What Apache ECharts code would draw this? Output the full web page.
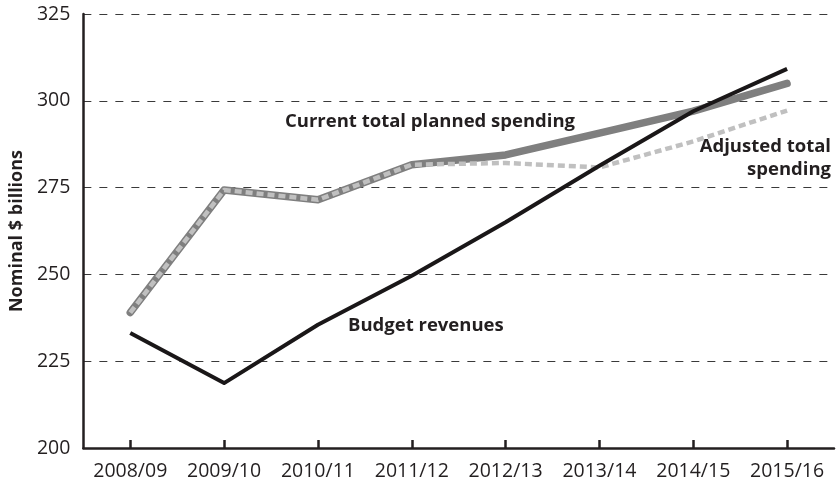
<!DOCTYPE html>
<html>
<head>
<meta charset="utf-8">
<script src="https://cdn.jsdelivr.net/npm/echarts@6/dist/echarts.min.js"></script>
<style>html,body{margin:0;padding:0;background:#fff;}#c{width:839px;height:487px;}</style>
</head>
<body>
<div id="c"></div>
<script>
const categories = ['2008/09','2009/10','2010/11','2011/12','2012/13','2013/14','2014/15','2015/16'];
const currentSpending = [239, 274.3, 271.5, 281.6, 284.4, 290.7, 297, 305];
const adjustedSpending = [239, 274.3, 271.5, 281.6, 282.1, 280.8, 288.3, 297.2];
const budgetRevenues = [233.1, 218.7, 235.5, 249.6, 265, 281.3, 297, 309.2];
const yTicks = [200, 225, 250, 275, 300, 325];

const ink = '#231f20';
const font = 'Open Sans';
const chart = echarts.init(document.getElementById('c'));
chart.setOption({
  animation: false,
  grid: {left: 80, right: 5, top: 14, bottom: 39, containLabel: false},
  xAxis: {
    type: 'category',
    data: categories,
    boundaryGap: true,
    axisLine: {lineStyle: {color: ink, width: 2.5}},
    axisTick: {show: true, inside: true, alignWithLabel: true, interval: 0, length: 8, lineStyle: {color: ink, width: 2.5}},
    axisLabel: {color: ink, fontFamily: font, fontSize: 19.5, margin: 13, interval: 0, hideOverlap: false},
    splitLine: {show: false}
  },
  yAxis: {
    type: 'value',
    min: yTicks[0], max: yTicks[yTicks.length - 1], interval: 25,
    name: 'Nominal $ billions',
    nameLocation: 'middle',
    nameGap: 56,
    nameRotate: 90,
    nameTextStyle: {color: ink, fontFamily: font, fontSize: 18, fontWeight: 'bold'},
    axisLine: {show: true, lineStyle: {color: ink, width: 2.5}},
    axisTick: {show: false},
    axisLabel: {color: ink, fontFamily: font, fontSize: 19.5, margin: 13},
    splitLine: {show: true, lineStyle: {color: '#3a3a3a', width: 1, type: [8, 8]}}
  },
  series: [
    {
      name: 'Current total planned spending', type: 'line', data: currentSpending,
      symbol: 'none', z: 2,
      lineStyle: {color: '#7f7f7f', width: 7.5, cap: 'round', join: 'round'}
    },
    {
      name: 'Adjusted total spending', type: 'line', data: adjustedSpending,
      symbol: 'none', z: 3,
      lineStyle: {color: '#c0c0c0', width: 4.5, type: [7, 4], cap: 'butt', join: 'round'}
    },
    {
      name: 'Budget revenues', type: 'line', data: budgetRevenues,
      symbol: 'none', z: 4,
      lineStyle: {color: '#1a1718', width: 4, cap: 'butt', join: 'round'}
    }
  ],
  graphic: [
    {type: 'text', x: 285, y: 112, style: {text: 'Current total planned spending', fill: ink, font: 'bold 18.5px "Open Sans"'}},
    {type: 'text', x: 348, y: 316, style: {text: 'Budget revenues', fill: ink, font: 'bold 18.5px "Open Sans"'}},
    {type: 'text', x: 831, y: 135, style: {text: 'Adjusted total\nspending', fill: ink, font: 'bold 18.5px "Open Sans"', align: 'right', lineHeight: 23}}
  ]
});
</script>
</body>
</html>
